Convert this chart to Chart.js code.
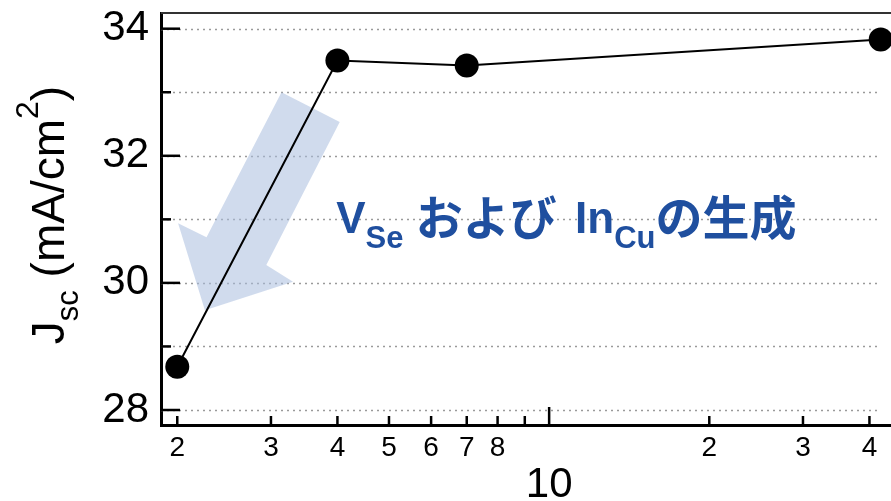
<!DOCTYPE html>
<html>
<head>
<meta charset="utf-8">
<style>
  html, body { margin: 0; padding: 0; background: #fff; overflow: hidden; }
  #wrap { position: relative; width: 921px; height: 501px; }
</style>
<script src="https://cdn.jsdelivr.net/npm/chart.js@4/dist/chart.umd.min.js"></script>
</head>
<body>
<div id="wrap"><canvas id="c"></canvas></div>
<script>
// Measured short-circuit current density vs. Se flux (log axis)
const seFlux = [2, 4, 7, 42];
const jsc = [28.68, 33.50, 33.42, 33.83];

// Axis ticks
const xTickValues = [2, 3, 4, 5, 6, 7, 8, 9, 10, 20, 30, 40];
const xTickLabels = ['2', '3', '4', '5', '6', '7', '8', '', ['', '10'], '2', '3', '4'];
const yTickValues = [28, 30, 32, 34];
const yGridValues = [28, 29, 30, 31, 32, 33, 34];

// Shaded arrow outline, in data units (x, y)
const arrowX = [3.14, 4.04, 2.94, 3.30, 2.254, 2.007, 2.27];
const arrowY = [33.00, 32.53, 30.28, 30.02, 29.57, 30.94, 30.72];

// Annotation anchor, in data units
const noteX = [3.98];
const noteY = [30.78];

const FONT = '"Liberation Sans", Arial, Helvetica, sans-serif';
const JP = '"Noto Sans CJK JP", sans-serif';

function drawRuns(ctx, runs, x, y) {
  let cx = x;
  for (const r of runs) {
    ctx.font = r.font;
    ctx.fillText(r.t, cx, y + (r.dy || 0));
    cx += ctx.measureText(r.t).width;
  }
  return cx - x;
}
function runsWidth(ctx, runs) {
  let w = 0;
  for (const r of runs) { ctx.font = r.font; w += ctx.measureText(r.t).width; }
  return w;
}

const decor = {
  id: 'decor',
  beforeDatasetsDraw(chart) {
    const { ctx, chartArea: a, scales: { x, y } } = chart;
    ctx.save();
    // dotted grid
    ctx.strokeStyle = '#9a9a9a';
    ctx.lineWidth = 1.5;
    ctx.setLineDash([2, 4]);
    const gx1 = x.getPixelForValue(41.8);
    for (const v of yGridValues) {
      const py = Math.round(y.getPixelForValue(v)) + 0.5;
      ctx.beginPath(); ctx.moveTo(a.left, py); ctx.lineTo(gx1, py); ctx.stroke();
    }
    ctx.setLineDash([]);
    // shaded arrow
    ctx.fillStyle = 'rgba(170,190,222,0.55)';
    ctx.beginPath();
    arrowX.forEach((vx, i) => {
      const px = x.getPixelForValue(vx), py = y.getPixelForValue(arrowY[i]);
      if (i === 0) ctx.moveTo(px, py); else ctx.lineTo(px, py);
    });
    ctx.closePath(); ctx.fill();
    // inward tick marks
    ctx.strokeStyle = '#000';
    ctx.lineWidth = 2.5;
    for (const v of yGridValues) {
      const py = y.getPixelForValue(v);
      const len = yTickValues.includes(v) ? 19 : 10;
      ctx.beginPath(); ctx.moveTo(a.left, py); ctx.lineTo(a.left + len, py); ctx.stroke();
    }
    for (const v of xTickValues) {
      const px = x.getPixelForValue(v);
      const len = v === 10 ? 18 : 9;
      ctx.beginPath(); ctx.moveTo(px, a.bottom); ctx.lineTo(px, a.bottom - len); ctx.stroke();
    }
    // top frame line
    ctx.strokeStyle = '#333';
    ctx.lineWidth = 2;
    ctx.beginPath(); ctx.moveTo(a.left, a.top); ctx.lineTo(a.right, a.top); ctx.stroke();
    ctx.restore();
  },
  afterDraw(chart) {
    const { ctx, scales: { x, y } } = chart;
    ctx.save();
    // annotation
    ctx.fillStyle = '#1f4f9f';
    ctx.textBaseline = 'alphabetic';
    const big = 'bold 44px ' + FONT, small = 'bold 31px ' + FONT, jp = 'bold 47px ' + JP;
    drawRuns(ctx, [
      { t: 'V', font: big },
      { t: 'Se', font: small, dy: 15 },
      { t: ' ', font: big },
      { t: 'および', font: jp, dy: 2 },
      { t: ' ', font: 'bold 22px ' + FONT },
      { t: ' In', font: big },
      { t: 'Cu', font: small, dy: 15 },
      { t: 'の生成', font: jp, dy: 2 }
    ], x.getPixelForValue(noteX[0]), y.getPixelForValue(noteY[0]));
    // y-axis title
    const tf = '46px ' + FONT, sf = '31px ' + FONT, pf = '32px ' + FONT;
    const runs = [
      { t: 'J', font: tf },
      { t: 'sc', font: sf, dy: 14 },
      { t: ' (mA/cm', font: tf },
      { t: '2', font: pf, dy: -26 },
      { t: ')', font: tf }
    ];
    ctx.fillStyle = '#000';
    ctx.translate(64, 215);
    ctx.rotate(-Math.PI / 2);
    drawRuns(ctx, runs, -runsWidth(ctx, runs) / 2, 0);
    ctx.restore();
  }
};

new Chart(document.getElementById('c'), {
  type: 'line',
  data: {
    datasets: [{
      data: seFlux.map((v, i) => ({ x: v, y: jsc[i] })),
      borderColor: '#000',
      borderWidth: 2,
      backgroundColor: '#000',
      pointBackgroundColor: '#000',
      pointBorderWidth: 0,
      pointRadius: 12,
      tension: 0,
      clip: false
    }]
  },
  options: {
    responsive: true,
    maintainAspectRatio: false,
    animation: false,
    layout: { autoPadding: false, padding: { top: 13, left: 0, right: 0, bottom: 0 } },
    plugins: { legend: { display: false }, tooltip: { enabled: false } },
    scales: {
      x: {
        type: 'logarithmic',
        min: 1.864,
        max: 50,
        grid: { display: false, drawTicks: false },
        border: { display: true, color: '#000', width: 3 },
        ticks: {
          autoSkip: false,
          maxRotation: 0,
          padding: 6,
          color: '#000',
          font: (c) => (c.tick && c.tick.value === 10)
            ? { family: FONT, size: 42, lineHeight: 0.86 }
            : { family: FONT, size: 28 },
          callback: (v) => {
            const i = xTickValues.indexOf(v);
            return i >= 0 ? xTickLabels[i] : '';
          }
        },
        afterBuildTicks: (s) => { s.ticks = xTickValues.map(v => ({ value: v })); },
        afterFit: (s) => { s.height = 76; s.paddingLeft = 0; s.paddingRight = 0; }
      },
      y: {
        type: 'linear',
        min: 27.764,
        max: 34.247,
        grid: { display: false, drawTicks: false },
        border: { display: true, color: '#000', width: 3 },
        ticks: {
          padding: 12,
          color: '#000',
          font: { family: FONT, size: 42 }
        },
        afterBuildTicks: (s) => { s.ticks = yTickValues.map(v => ({ value: v })); },
        afterFit: (s) => { s.width = 161; s.paddingTop = 0; s.paddingBottom = 0; }
      }
    }
  },
  plugins: [decor]
});
</script>
</body>
</html>
